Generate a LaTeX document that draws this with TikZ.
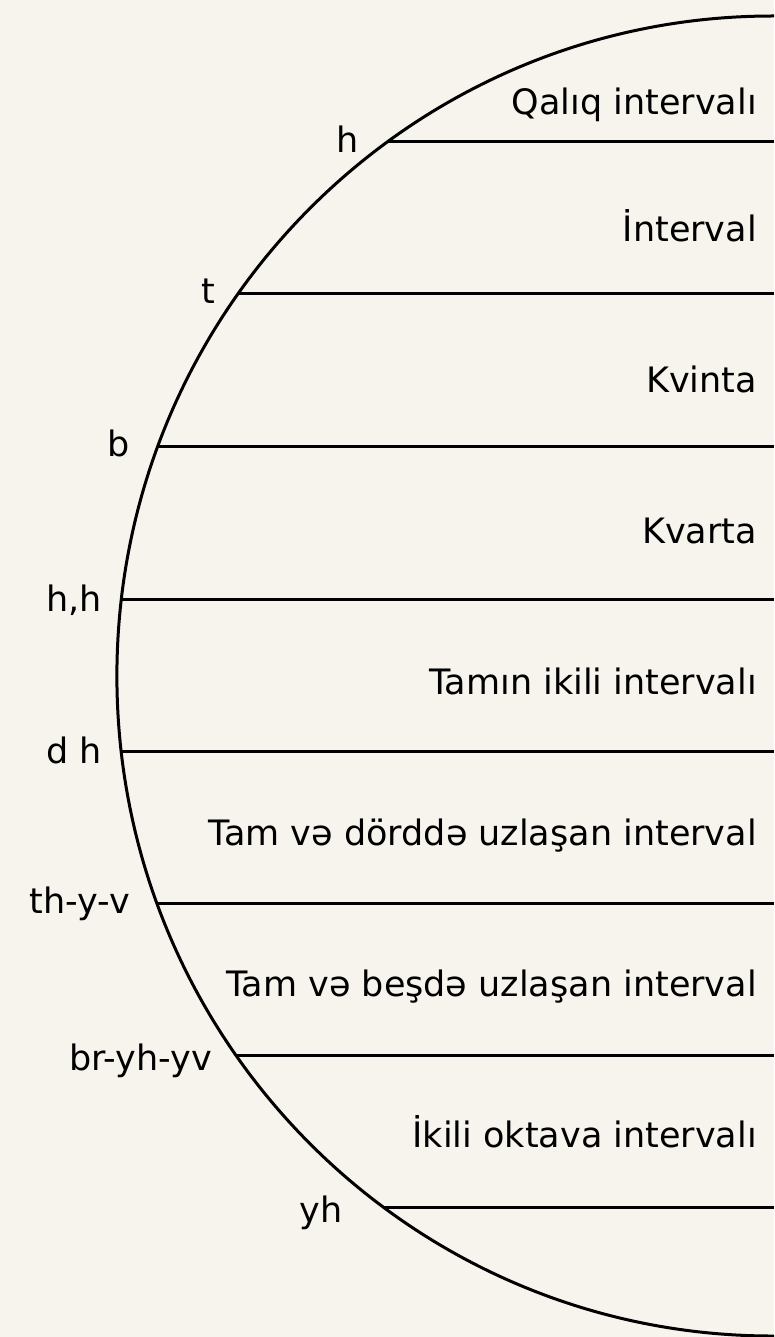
\documentclass[tikz,border=0pt]{standalone}
\usepackage{fontspec}
\setmainfont{DejaVu Sans}
\definecolor{bgc}{HTML}{F7F4EE}
\begin{document}
\begin{tikzpicture}[x=1pt,y=-1pt,
  rule/.style={line width=3pt,black},
  rlab/.style={anchor=base east,inner sep=0pt,font=\fontsize{35}{40}\selectfont},
  llab/.style={anchor=base east,inner sep=0pt,font=\fontsize{35}{40}\selectfont}]
\useasboundingbox (0,0) rectangle (774,1337);
\fill[bgc] (0,0) rectangle (774,1337);
\begin{scope}
\clip (0,0) rectangle (774,1337);
\draw[rule] (772.6,676) ellipse [x radius=655.7pt, y radius=660pt];
\end{scope}
% line end points on the arc
\coordinate (a1) at (387.3,142);  \coordinate (b1) at (774,142);
\coordinate (a2) at (237.9,294);  \coordinate (b2) at (774,294);
\coordinate (a3) at (158.0,446);  \coordinate (b3) at (774,446);
\coordinate (a4) at (121.4,599);  \coordinate (b4) at (774,599);
\coordinate (a5) at (121.2,751);  \coordinate (b5) at (774,751);
\coordinate (a6) at (156.9,903);  \coordinate (b6) at (774,903);
\coordinate (a7) at (235.8,1055); \coordinate (b7) at (774,1055);
\coordinate (a8) at (383.2,1207); \coordinate (b8) at (774,1207);
\foreach \i in {1,...,8} {\draw[rule] (a\i) -- (b\i);}
% right labels
\node[rlab] (r1) at (757,115)  {Qalıq intervalı};
\node[rlab] (r2) at (757,242)  {İnterval};
\node[rlab] (r3) at (757,392)  {Kvinta};
\node[rlab] (r4) at (757,543)  {Kvarta};
\node[rlab] (r5) at (757,694)  {Tamın ikili intervalı};
\node[rlab] (r6) at (757,845)  {Tam və dörddə uzlaşan interval};
\node[rlab] (r7) at (757,996)  {Tam və beşdə uzlaşan interval};
\node[rlab] (r8) at (757,1147) {İkili oktava intervalı};
% left labels
\node[llab] (l1) at (359,153)  {h};
\node[llab] (l2) at (215,304)  {t};
\node[llab] (l3) at (130,456)  {b};
\node[llab] (l4) at (102,611)  {h,h};
\node[llab] (l5) at (102,763)  {d h};
\node[llab] (l6) at (130,913)  {th-y-v};
\node[llab] (l7) at (212,1070) {br-yh-yv};
\node[llab] (l8) at (343,1222) {yh};
\end{tikzpicture}
\end{document}
